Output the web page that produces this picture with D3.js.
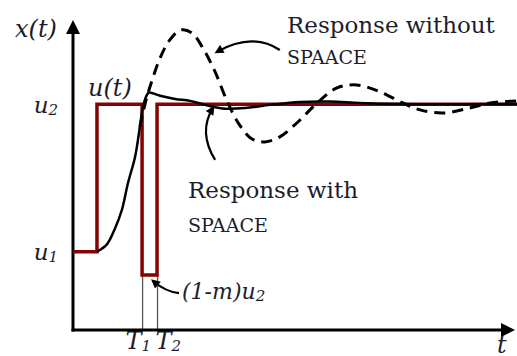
<!DOCTYPE html>
<html>
<head>
<meta charset="utf-8">
<script src="https://cdn.jsdelivr.net/npm/d3@7"></script>
<style>
  html, body { margin: 0; padding: 0; background: #fff; }
  svg { display: block; }
  .lbl { font-family: "DejaVu Serif", serif; fill: #1d1d2b; }
</style>
</head>
<body>
<div id="chart"></div>
<script>
// time runs 0..10, the level axis has u1 = 0 and u2 = 1
const u1Level = 0;
const u2Level = 1;
const stepTime = 0.545;
const T1 = 1.57;
const T2 = 1.91;
const pulseLevel = -0.157;   // (1-m)u2
const endTime = 10.09;

// input u(t)
const inputT = [0, stepTime, stepTime, T1, T1, T2, T2, endTime];
const inputV = [u1Level, u1Level, u2Level, u2Level, pulseLevel, pulseLevel, u2Level, u2Level];

// response with SPAACE (solid)
const withT = [0.545, 0.77, 0.95, 1.11, 1.25, 1.41, 1.52, 1.59, 1.68, 1.73, 1.98, 2.32, 2.66, 3.0, 3.39, 3.91, 4.48, 5.16, 5.84, 6.52, 7.43, 10.09];
const withV = [0, 0.05, 0.155, 0.283, 0.466, 0.642, 0.846, 0.981, 1.062, 1.079, 1.057, 1.035, 1.022, 0.995, 0.971, 0.974, 0.995, 1.015, 1.018, 1.008, 1.001, 1.001];

// response without SPAACE (dashed)
const withoutT = [1.52, 1.66, 1.8, 1.98, 2.2, 2.45, 2.7, 2.95, 3.23, 3.52, 3.8, 4.07, 4.36, 4.7, 5.11, 5.55, 6.0, 6.45, 6.98, 7.5, 7.89, 8.41, 9.02, 9.48, 10.09];
const withoutV = [0.846, 1.028, 1.164, 1.313, 1.435, 1.503, 1.483, 1.381, 1.218, 1.008, 0.852, 0.764, 0.744, 0.778, 0.879, 1.008, 1.11, 1.13, 1.083, 1.008, 0.961, 0.94, 0.974, 1.008, 1.022];

// annotation arrows: start, control, tip (t, level)
const arrowWithout = [[4.70, 1.367], [4.07, 1.489], [3.27, 1.354]];
const arrowWith = [[3.23, 0.622], [2.84, 0.812], [3.18, 0.974]];
const arrowPulse = [[2.41, -0.280], [2.11, -0.272], [1.82, -0.198]];

const width = 517, height = 356;
const axisX = 73, axisY = 330;

const svg = d3.select("#chart").append("svg")
  .attr("width", width)
  .attr("height", height);

const x = d3.scaleLinear().domain([0, 10]).range([axisX, 513]);
const y = d3.scaleLinear().domain([-0.53, 1.57]).range([axisY, 20]);

const defs = svg.append("defs");
defs.append("marker")
  .attr("id", "bigHead")
  .attr("viewBox", "0 0 10 10")
  .attr("refX", 0).attr("refY", 5)
  .attr("markerUnits", "userSpaceOnUse")
  .attr("markerWidth", 15).attr("markerHeight", 14)
  .attr("orient", "auto")
  .append("path").attr("d", "M0,0L10,5L0,10Z").attr("fill", "#000");
defs.append("marker")
  .attr("id", "smallHead")
  .attr("viewBox", "0 0 10 10")
  .attr("refX", 7).attr("refY", 5)
  .attr("markerUnits", "userSpaceOnUse")
  .attr("markerWidth", 11).attr("markerHeight", 9)
  .attr("orient", "auto")
  .append("path").attr("d", "M0,0L10,5L0,10Z").attr("fill", "#000");

// x axis with the T1 / T2 guide lines as ticks
const xAxis = d3.axisBottom(x)
  .tickValues([T1, T2])
  .tickSizeInner(-(axisY - y(pulseLevel)))
  .tickSizeOuter(0)
  .tickPadding(2)
  .tickFormat(() => "T");
const gx = svg.append("g")
  .attr("transform", `translate(0,${axisY})`)
  .call(xAxis);
gx.select(".domain").remove();
gx.selectAll(".tick line").attr("stroke", "#555").attr("stroke-width", 1.3);
gx.selectAll(".tick text")
  .attr("class", "lbl")
  .attr("font-size", 24).attr("font-style", "italic")
  .attr("text-anchor", "start")
  .attr("fill", "#1d1d2b")
  .attr("dx", (d, i) => i === 0 ? -17 : -2)
  .each(function(d, i) {
    d3.select(this).append("tspan").attr("font-size", 15).attr("dy", 2).text(i + 1);
  });

// y axis with u1 / u2 labels
const yAxis = d3.axisLeft(y)
  .tickValues([u1Level, u2Level])
  .tickSize(0)
  .tickPadding(15)
  .tickFormat(() => "u");
const gy = svg.append("g")
  .attr("transform", `translate(${axisX},0)`)
  .call(yAxis);
gy.select(".domain").remove();
gy.selectAll(".tick text")
  .attr("class", "lbl")
  .attr("font-size", 23).attr("font-style", "italic")
  .attr("fill", "#1d1d2b")
  .attr("dy", "0.35em")
  .each(function(d) {
    d3.select(this).append("tspan").attr("font-size", 15).attr("dy", 2).text(d === u2Level ? "2" : "1");
  });

// axis lines with arrow heads
svg.append("line")
  .attr("x1", axisX).attr("y1", axisY + 1.5)
  .attr("x2", axisX).attr("y2", 34)
  .attr("stroke", "#000").attr("stroke-width", 3)
  .attr("marker-end", "url(#bigHead)");
svg.append("line")
  .attr("x1", axisX - 1.5).attr("y1", axisY)
  .attr("x2", 501).attr("y2", axisY)
  .attr("stroke", "#000").attr("stroke-width", 3)
  .attr("marker-end", "url(#bigHead)");

const line = d3.line().x(d => x(d[0])).y(d => y(d[1]));

// input signal
svg.append("path")
  .datum(inputT.map((t, i) => [t, inputV[i]]))
  .attr("d", line.curve(d3.curveLinear))
  .attr("fill", "none")
  .attr("stroke", "#840404")
  .attr("stroke-width", 3.5)
  .attr("stroke-linejoin", "miter");

// response without SPAACE
svg.append("path")
  .datum(withoutT.map((t, i) => [t, withoutV[i]]))
  .attr("d", line.curve(d3.curveCatmullRom.alpha(0.5)))
  .attr("fill", "none")
  .attr("stroke", "#000")
  .attr("stroke-width", 3)
  .attr("stroke-dasharray", "11,7");

// response with SPAACE
svg.append("path")
  .datum(withT.map((t, i) => [t, withV[i]]))
  .attr("d", line.curve(d3.curveCatmullRom.alpha(0.5)))
  .attr("fill", "none")
  .attr("stroke", "#000")
  .attr("stroke-width", 2.5);

// annotation arrows
[arrowWithout, arrowWith, arrowPulse].forEach(a => {
  const p = a.map(d => [x(d[0]), y(d[1])]);
  svg.append("path")
    .attr("d", `M${p[0][0]},${p[0][1]}Q${p[1][0]},${p[1][1]} ${p[2][0]},${p[2][1]}`)
    .attr("fill", "none")
    .attr("stroke", "#000")
    .attr("stroke-width", 2.2)
    .attr("marker-end", "url(#smallHead)");
});

// text labels
function label(px, py, size, italic, parts) {
  const t = svg.append("text")
    .attr("class", "lbl")
    .attr("x", px).attr("y", py)
    .attr("font-size", size)
    .attr("font-style", italic ? "italic" : "normal");
  parts.forEach(p => {
    const s = t.append("tspan").text(p[0]);
    if (p[1]) s.attr("font-size", p[1]);
    if (p[2]) s.attr("dy", p[2]);
  });
  return t;
}

label(15, 37, 24, true, [["x(t)"]]);
label(88, 96, 24, true, [["u(t)"]]);
label(497, 353, 24, true, [["t"]]);
label(287, 33, 23, false, [["Response without"]]);
label(287, 64, 19, false, [["SPAACE"]]);
label(188, 198, 23, false, [["Response with"]]);
label(188, 232, 19, false, [["SPAACE"]]);
label(182, 299, 22, true, [["(1-m)u"], ["2", 15, 2]]);
</script>
</body>
</html>
